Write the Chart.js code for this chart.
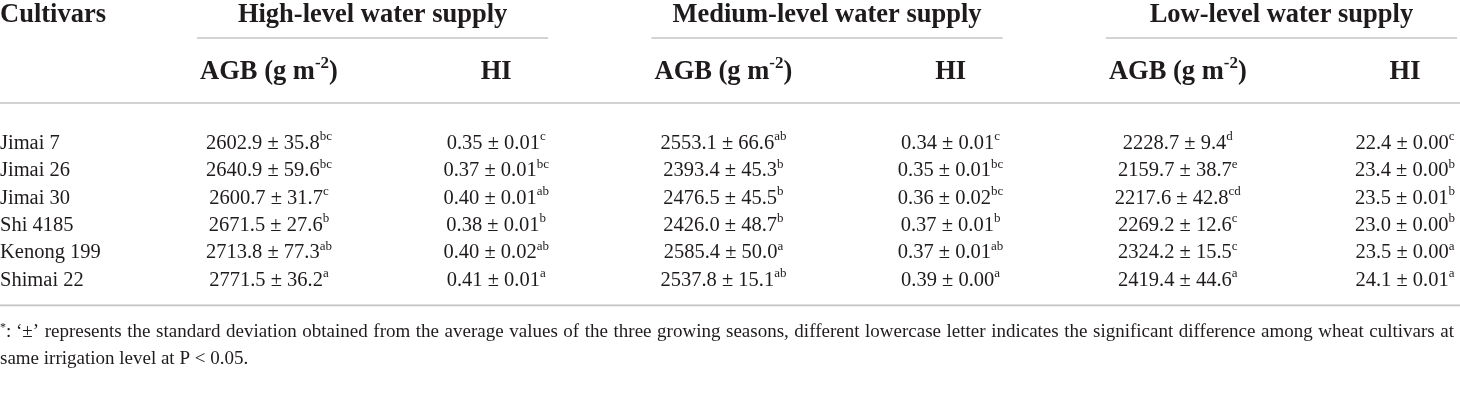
<!DOCTYPE html>
<html>
<head>
<meta charset="utf-8">
<script src="https://cdn.jsdelivr.net/npm/chart.js@4.4.1/dist/chart.umd.min.js"></script>
<style>
html,body{margin:0;padding:0;background:#fff;}
#wrap{width:1460px;height:417px;position:relative;}
</style>
</head>
<body>
<div id="wrap"><canvas id="c" width="1460" height="417"></canvas></div>
<script>
// ---------- DATA ----------
const cultivars = ['Jimai 7', 'Jimai 26', 'Jimai 30', 'Shi 4185', 'Kenong 199', 'Shimai 22'];
const levels = ['High-level water supply', 'Medium-level water supply', 'Low-level water supply'];
const columnKeys = ['AGB-High', 'HI-High', 'AGB-Medium', 'HI-Medium', 'AGB-Low', 'HI-Low'];

const agbHigh    = [2602.9, 2640.9, 2600.7, 2671.5, 2713.8, 2771.5];
const agbHighSd  = [35.8, 59.6, 31.7, 27.6, 77.3, 36.2];
const agbHighSig = ['bc', 'bc', 'c', 'b', 'ab', 'a'];

const hiHigh     = [0.35, 0.37, 0.40, 0.38, 0.40, 0.41];
const hiHighSd   = [0.01, 0.01, 0.01, 0.01, 0.02, 0.01];
const hiHighSig  = ['c', 'bc', 'ab', 'b', 'ab', 'a'];

const agbMed     = [2553.1, 2393.4, 2476.5, 2426.0, 2585.4, 2537.8];
const agbMedSd   = [66.6, 45.3, 45.5, 48.7, 50.0, 15.1];
const agbMedSig  = ['ab', 'b', 'b', 'b', 'a', 'ab'];

const hiMed      = [0.34, 0.35, 0.36, 0.37, 0.37, 0.39];
const hiMedSd    = [0.01, 0.01, 0.02, 0.01, 0.01, 0.00];
const hiMedSig   = ['c', 'bc', 'bc', 'b', 'ab', 'a'];

const agbLow     = [2228.7, 2159.7, 2217.6, 2269.2, 2324.2, 2419.4];
const agbLowSd   = [9.4, 38.7, 42.8, 12.6, 15.5, 44.6];
const agbLowSig  = ['d', 'e', 'cd', 'c', 'c', 'a'];

const hiLow      = [22.4, 23.4, 23.5, 23.0, 23.5, 24.1];
const hiLowSd    = [0.00, 0.00, 0.01, 0.00, 0.00, 0.01];
const hiLowSig   = ['c', 'b', 'b', 'b', 'a', 'a'];

const footnoteLine1 = '\u2018\u00B1\u2019 represents the standard deviation obtained from the average values of the three growing seasons, different lowercase letter indicates the significant difference among wheat cultivars at';
const footnoteLine2 = 'same irrigation level at P < 0.05.';

// ---------- build datasets ----------
function col(key, vals, sds, sigs, vDec, sdDec) {
  return {
    label: key,
    data: cultivars.map((c, i) => ({ x: key, y: c, v: vals[i], sd: sds[i], sig: sigs[i], vDec: vDec, sdDec: sdDec })),
    pointRadius: 0,
    pointHoverRadius: 0,
    showLine: false
  };
}
const datasets = [
  col('AGB-High', agbHigh, agbHighSd, agbHighSig, 1, 1),
  col('HI-High', hiHigh, hiHighSd, hiHighSig, 2, 2),
  col('AGB-Medium', agbMed, agbMedSd, agbMedSig, 1, 1),
  col('HI-Medium', hiMed, hiMedSd, hiMedSig, 2, 2),
  col('AGB-Low', agbLow, agbLowSd, agbLowSig, 1, 1),
  col('HI-Low', hiLow, hiLowSd, hiLowSig, 1, 2)
];

// ---------- styles ----------
const SERIF = '"Liberation Serif", "DejaVu Serif", serif';
const TEXT = '#1f1b1c';
const RULE = '#c4c4c4';
const BODY_PX = 20.5;
const HEAD_PX = 26.5;
const FOOT_PX = 19;

function drawRich(ctx, parts, x, y, align, px, bold) {
  const w = (p) => {
    ctx.font = (bold ? 'bold ' : '') + (p.sup ? Math.round(px * 0.64) : px) + 'px ' + SERIF;
    return ctx.measureText(p.t).width;
  };
  let total = 0;
  parts.forEach(p => total += w(p));
  let cx = align === 'center' ? x - total / 2 : (align === 'right' ? x - total : x);
  ctx.textAlign = 'left';
  ctx.textBaseline = 'alphabetic';
  parts.forEach(p => {
    const ww = w(p);
    ctx.fillText(p.t, cx, p.sup ? y - px * 0.42 : y);
    cx += ww;
  });
}

const tablePlugin = {
  id: 'tablePlugin',
  afterDatasetsDraw(chart) {
    const ctx = chart.ctx;
    const xs = chart.scales.x, ys = chart.scales.y;
    ctx.save();
    ctx.fillStyle = TEXT;
    const rowStep = ys.getPixelForValue(1) - ys.getPixelForValue(0);
    const base = BODY_PX * 0.33;

    // cells
    chart.data.datasets.forEach((ds, di) => {
      const meta = chart.getDatasetMeta(di);
      meta.data.forEach((pt, i) => {
        const d = ds.data[i];
        drawRich(ctx, [
          { t: d.v.toFixed(d.vDec) + ' \u00B1 ' + d.sd.toFixed(d.sdDec) },
          { t: d.sig, sup: true }
        ], pt.x, pt.y + base, 'center', BODY_PX, false);
      });
    });

    // cultivar names (row labels)
    cultivars.forEach((c, i) => {
      drawRich(ctx, [{ t: c }], 0, ys.getPixelForValue(i) + base, 'left', BODY_PX, false);
    });

    const top = chart.chartArea.top;
    const titleY = top - 120;
    const subY = top - 63;
    const groupRuleY = top - 104;
    const headRuleY = top - 39;
    const bottomRuleY = ys.getPixelForValue(cultivars.length - 1) + rowStep - 1;

    // header titles
    drawRich(ctx, [{ t: 'Cultivars' }], 0, titleY, 'left', HEAD_PX, true);
    levels.forEach((lv, g) => {
      const a = xs.getPixelForValue(g * 2), b = xs.getPixelForValue(g * 2 + 1);
      // group rule spanning the two sub-columns
      const x0 = a - 72;
      const x1 = Math.min(b + 52, chart.width);
      drawRich(ctx, [{ t: lv }], (x0 + x1) / 2, titleY, 'center', HEAD_PX, true);
      drawRich(ctx, [{ t: 'AGB (g m' }, { t: '-2', sup: true }, { t: ')' }], a, subY, 'center', HEAD_PX, true);
      drawRich(ctx, [{ t: 'HI' }], b, subY, 'center', HEAD_PX, true);
      ctx.strokeStyle = RULE;
      ctx.lineWidth = 1.6;
      ctx.beginPath();
      ctx.moveTo(x0, groupRuleY); ctx.lineTo(x1, groupRuleY);
      ctx.stroke();
    });

    // full rules
    ctx.strokeStyle = RULE;
    ctx.lineWidth = 1.6;
    [headRuleY, bottomRuleY].forEach(yy => {
      ctx.beginPath();
      ctx.moveTo(0, yy); ctx.lineTo(chart.width, yy);
      ctx.stroke();
    });

    // footnote
    const fpx = FOOT_PX;
    const fy1 = bottomRuleY + 32, fy2 = fy1 + 27;
    ctx.font = Math.round(fpx * 0.64) + 'px ' + SERIF;
    ctx.fillText('*', 0, fy1 - fpx * 0.35);
    let sx = ctx.measureText('*').width;
    ctx.font = fpx + 'px ' + SERIF;
    ctx.fillText(':', sx, fy1);
    sx += ctx.measureText(': ').width;
    const words = footnoteLine1.split(' ');
    const avail = chart.width - 6 - sx;
    let wsum = 0;
    words.forEach(w => wsum += ctx.measureText(w).width);
    const natural = ctx.measureText(' ').width;
    const sp = Math.max(natural * 0.8, (avail - wsum) / (words.length - 1));
    let wx = sx;
    words.forEach(w => { ctx.fillText(w, wx, fy1); wx += ctx.measureText(w).width + sp; });
    ctx.fillText(footnoteLine2, 0, fy2);
    ctx.restore();
  }
};

new Chart(document.getElementById('c'), {
  type: 'scatter',
  data: { datasets: datasets },
  options: {
    responsive: false,
    animation: false,
    events: [],
    layout: { padding: { left: 269, right: 55, top: 142, bottom: 417 - 279 } },
    plugins: { legend: { display: false }, tooltip: { enabled: false } },
    scales: {
      x: { type: 'category', labels: columnKeys, offset: false, display: false },
      y: { type: 'category', labels: cultivars, offset: false, display: false }
    }
  },
  plugins: [tablePlugin]
});
</script>
</body>
</html>
